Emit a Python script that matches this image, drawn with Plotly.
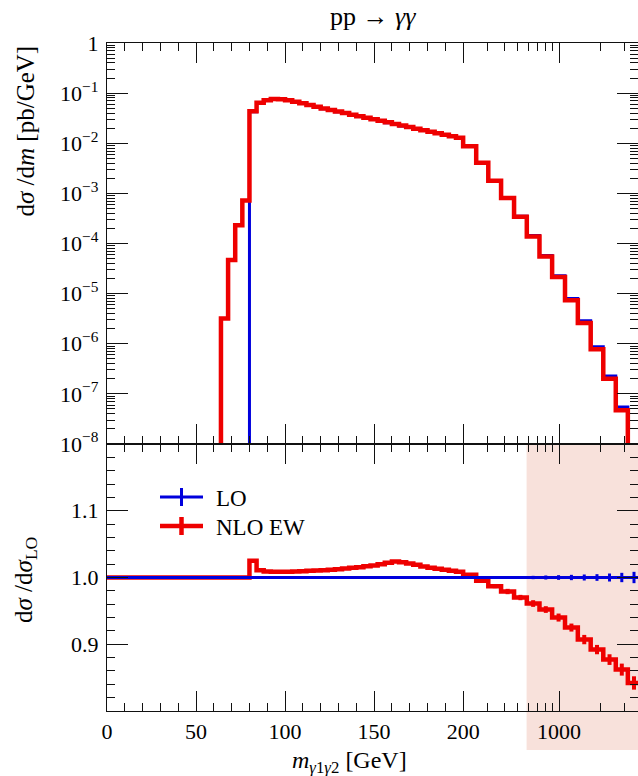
import numpy as np
import plotly.graph_objects as go

# ---------------- data ----------------
# bin edges in GeV (4 GeV bins up to 200, then log-spaced bins)
edges = [64, 68, 72, 76, 80, 84, 88, 92, 96, 100, 104, 108, 112, 116, 120, 124,
         128, 132, 136, 140, 144, 148, 152, 156, 160, 164, 168, 172, 176, 180,
         184, 188, 192, 196, 200,
         249, 305, 378, 470, 582, 720, 890, 1105, 1370, 1700, 2100, 2590, 3170, 3900]

# NLO EW differential cross section [pb/GeV], one value per bin
nlo_ew = [3.2e-6, 4.7e-5, 2.3e-4, 7.2e-4,
          0.0437, 0.0646, 0.0724, 0.0767, 0.0759, 0.0724, 0.0676, 0.0631, 0.0582,
          0.0537, 0.0495, 0.0462, 0.0432, 0.0403, 0.0372, 0.0347, 0.0324, 0.0302,
          0.0282, 0.0263, 0.0243, 0.0226, 0.0211, 0.0195, 0.0182, 0.0170, 0.0158,
          0.0148, 0.0138, 0.0129,
          8.7e-3, 4.1e-3, 1.78e-3, 8.1e-4, 3.4e-4, 1.38e-4, 5.5e-5, 2.14e-5,
          7.4e-6, 2.6e-6, 7.8e-7, 2.0e-7, 4.7e-8, 4.0e-9]

# LO starts at 80 GeV; ratio NLO EW / LO for the bins from 80 GeV on
lo_start = 80
k_ew = [1.025, 1.011, 1.009, 1.0085, 1.0085, 1.0085, 1.009, 1.0095, 1.010, 1.0105,
        1.011, 1.0115, 1.0125, 1.0135, 1.0145, 1.0155, 1.017, 1.018, 1.020, 1.022,
        1.024, 1.023, 1.021, 1.019, 1.0165, 1.0145, 1.013, 1.0115, 1.010, 1.0085,
        1.004, 0.995, 0.987, 0.979, 0.970, 0.961, 0.952, 0.940, 0.925, 0.907,
        0.892, 0.877, 0.862, 0.842]

# statistical uncertainties on the ratios (bins from 80 GeV on)
err_lo = [0.0] * 10 + [0.002] * 20 + [0.001, 0.001, 0.0015, 0.002, 0.002, 0.0025, 0.003,
                                      0.0035, 0.004, 0.0045, 0.005, 0.006, 0.007, 0.0085]
err_nlo = [0.0] * 10 + [0.002] * 20 + [0.002, 0.003, 0.003, 0.004, 0.004, 0.005, 0.005,
                                       0.006, 0.006, 0.007, 0.007, 0.008, 0.009, 0.010]

x_major = [0, 50, 100, 150, 200, 1000]
x_major_text = ['0', '50', '100', '150', '200', '1000']
x_minor = [10, 20, 30, 40, 60, 70, 80, 90, 110, 120, 130, 140, 160, 170, 180, 190,
           300, 400, 500, 600, 700, 800, 900, 2000, 3000]
x_max = 3760
shade_from = 580

y_exps = [0, -1, -2, -3, -4, -5, -6, -7, -8]
r_major = [0.9, 1.0, 1.1]
r_minor = [0.82, 0.84, 0.86, 0.88, 0.92, 0.94, 0.96, 0.98, 1.02, 1.04, 1.06, 1.08,
           1.12, 1.14, 1.16, 1.18]

# ---------------- axis transform: linear to 200 GeV, log above ----------------
K = 77.07  # axis units per decade above 200 GeV


def u(x):
    return x if x <= 200 else 200 + K * np.log10(x / 200.0)


RED = '#ee0000'
BLUE = '#0000dd'
FONT = 'Liberation Serif'

# ---------------- build series ----------------
ue = [u(e) for e in edges]
i0 = edges.index(lo_start)
lo = [None] * i0 + [n / k for n, k in zip(nlo_ew[i0:], k_ew)]

# upper panel step lines
x_nlo = [ue[0]] + ue
y_nlo = [1e-15] + nlo_ew + [nlo_ew[-1]]
x_lo = [ue[i0]] + ue[i0:]
y_lo = [1e-15] + lo[i0:] + [lo[-1]]

# ratio panel step lines
x_r = [0.0] + ue[i0:]
y_r_nlo = [1.0] + k_ew + [k_ew[-1]]
y_r_lo = [1.0] + [l / l for l in lo[i0:]] + [1.0]
centers = [(ue[i] + ue[i + 1]) / 2 for i in range(i0, len(edges) - 1)]

fig = go.Figure()
fig.add_trace(go.Scatter(x=x_lo, y=y_lo, mode='lines', line=dict(color=BLUE, width=3, shape='hv'),
                         name='LO', showlegend=False, xaxis='x', yaxis='y'))
fig.add_trace(go.Scatter(x=x_nlo, y=y_nlo, mode='lines', line=dict(color=RED, width=4.5, shape='hv'),
                         name='NLO EW', showlegend=False, xaxis='x', yaxis='y'))

fig.add_trace(go.Scatter(x=x_r, y=y_r_nlo, mode='lines', line=dict(color=RED, width=4.5, shape='hv'),
                         showlegend=False, xaxis='x2', yaxis='y2'))
fig.add_trace(go.Scatter(x=centers, y=k_ew, mode='markers', marker=dict(size=0.1, color=RED),
                         error_y=dict(type='data', array=err_nlo, color=RED, thickness=4, width=0),
                         showlegend=False, xaxis='x2', yaxis='y2'))
fig.add_trace(go.Scatter(x=x_r, y=y_r_lo, mode='lines', line=dict(color=BLUE, width=3, shape='hv'),
                         showlegend=False, xaxis='x2', yaxis='y2'))
fig.add_trace(go.Scatter(x=centers, y=[1.0] * len(centers), mode='markers', marker=dict(size=0.1, color=BLUE),
                         error_y=dict(type='data', array=err_lo, color=BLUE, thickness=3, width=0),
                         showlegend=False, xaxis='x2', yaxis='y2'))

# ---------------- layout ----------------
W, H = 638, 776
ML, MR, MT, MB = 107, 0, 43, 65
PW, PH = W - ML - MR, H - MT - MB
split = (711 - 444) / PH
xr = [0, u(x_max)]


def px_x(p):
    return (p - ML) / PW


def px_y(p):
    return (H - MB - p) / PH


axis_common = dict(showline=True, linecolor='#111', linewidth=1.4, mirror='ticks', ticks='inside',
                   tickcolor='#111', tickwidth=1.3, showgrid=False, zeroline=False,
                   tickfont=dict(family=FONT, size=22, color='black'))

xcommon = dict(axis_common, range=xr, tickmode='array', tickvals=[u(v) for v in x_major],
               ticktext=x_major_text, ticklen=20, ticklabelstandoff=0,
               minor=dict(tickmode='array', tickvals=[u(v) for v in x_minor], ticks='inside',
                          ticklen=8, tickwidth=1.2, tickcolor='#111', showgrid=False))

fig.update_layout(
    width=W, height=H, margin=dict(l=ML, r=MR, t=MT, b=MB),
    paper_bgcolor='white', plot_bgcolor='rgba(0,0,0,0)',
    xaxis=dict(xcommon, anchor='y', domain=[0, 1], showticklabels=False),
    xaxis2=dict(xcommon, anchor='y2', domain=[0, 1], matches='x'),
    yaxis=dict(axis_common, type='log', domain=[split, 1], range=[-8, 0], anchor='x',
               tickmode='array', tickvals=[10.0 ** e for e in y_exps], ticklabelstandoff=3,
               ticktext=['1'] + ['10<sup>−%d</sup>' % (-e) for e in y_exps[1:]], ticklen=21,
               minor=dict(tickmode='array',
                          tickvals=[m * 10.0 ** e for e in range(-8, 0) for m in range(2, 10)],
                          ticks='inside', ticklen=8, tickwidth=1.2, tickcolor='#111', showgrid=False)),
    yaxis2=dict(axis_common, domain=[0, split], range=[0.8, 1.2], anchor='x2', ticklabelstandoff=3,
                tickmode='array', tickvals=r_major, ticktext=['0.9', '1.0', '1.1'], ticklen=21,
                minor=dict(tickmode='array', tickvals=r_minor, ticks='inside', ticklen=8,
                           tickwidth=1.2, tickcolor='#111', showgrid=False)),
)

# shaded region in the ratio panel (extends below the axis)
x_shade = (u(shade_from) - xr[0]) / (xr[1] - xr[0])
fig.add_shape(type='rect', xref='paper', yref='paper', x0=x_shade, x1=1.05,
              y0=px_y(750), y1=split, fillcolor='#f8e1db', line=dict(width=0), layer='below')

# legend (drawn in the ratio panel, upper left)
legend_items = [('LO', BLUE, 3, 497), ('NLO EW', RED, 4.5, 526)]
for name, col, lw, py in legend_items:
    fig.add_shape(type='line', xref='paper', yref='paper', x0=px_x(160), x1=px_x(203),
                  y0=px_y(py), y1=px_y(py), line=dict(color=col, width=lw))
    fig.add_shape(type='line', xref='paper', yref='paper', x0=px_x(181.5), x1=px_x(181.5),
                  y0=px_y(py - 9), y1=px_y(py + 9), line=dict(color=col, width=lw))
    fig.add_annotation(text=name, xref='paper', yref='paper', x=px_x(214), y=px_y(py + 1),
                       xanchor='left', yanchor='middle', showarrow=False,
                       font=dict(family=FONT, size=23, color='black'))

# titles
fig.add_annotation(text='pp → <i>γγ</i>', xref='paper', yref='paper', x=0.5, y=px_y(17),
                   xanchor='center', yanchor='middle', showarrow=False,
                   font=dict(family=FONT, size=26, color='black'))
fig.add_annotation(text='d<i>σ</i> /d<i>m</i> [pb/GeV]', xref='paper', yref='paper',
                   x=px_x(25), y=px_y(44), xanchor='center', yanchor='top', textangle=-90,
                   showarrow=False, font=dict(family=FONT, size=25, color='black'))
fig.add_annotation(text='d<i>σ</i> /d<i>σ</i><sub>LO</sub>', xref='paper', yref='paper',
                   x=px_x(25), y=px_y(580), xanchor='center', yanchor='middle', textangle=-90,
                   showarrow=False, font=dict(family=FONT, size=25, color='black'))
fig.add_annotation(text='<i>m</i><sub><i>γ</i>1<i>γ</i>2</sub> [GeV]', xref='paper', yref='paper',
                   x=px_x(290), y=px_y(762), xanchor='left', yanchor='middle', showarrow=False,
                   font=dict(family=FONT, size=24, color='black'))

fig.write_html('out.html')
